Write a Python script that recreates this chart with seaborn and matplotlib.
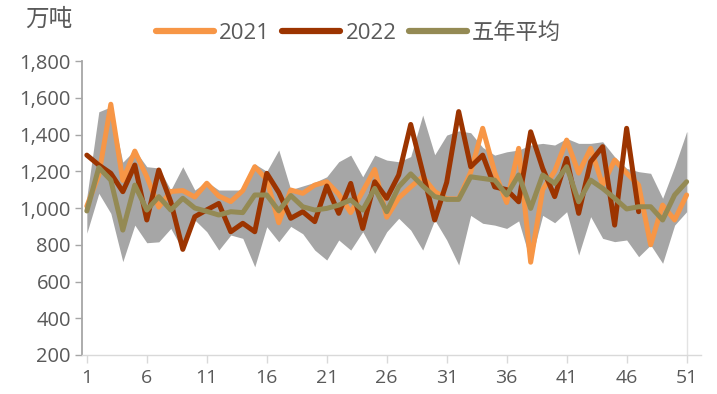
import matplotlib
matplotlib.use("Agg")
import matplotlib.pyplot as plt
from matplotlib.lines import Line2D
import numpy as np
import pandas as pd
import seaborn as sns

# Weekly volume, 10k tonnes
weeks = list(range(1, 52))

y2021 = [1010, 1180, 1565, 1150, 1310, 1170, 1005, 1090, 1095, 1060,
         1135, 1065, 1035, 1095, 1225, 1155, 920, 1098, 1080, 1125,
         1143, 1075, 975, 1090, 1210, 950, 1055, 1115, 1170, 1090,
         1050, 1050, 1195, 1434, 1195, 1030, 1325, 705, 1100, 1200,
         1370, 1190, 1325, 1125, 1261, 1190, 1125, 800, 1016, 935,
         1071]

y2022 = [1288, 1234, 1189, 1089, 1234, 935, 1207, 1034, 775, 953,
         990, 1025, 871, 917, 871, 1189, 1085, 944, 980, 926,
         1120, 971, 1134, 889, 1143, 1053, 1180, 1455, 1195, 935,
         1140, 1525, 1225, 1288, 1115, 1100, 1034, 1415, 1216, 1062,
         1270, 971, 1252, 1334, 907, 1434, 980]

avg5 = [984, 1220, 1152, 880, 1125, 989, 1062, 989, 1053, 1000,
        982, 962, 980, 975, 1071, 1071, 985, 1068, 1007, 989,
        998, 1016, 1044, 989, 1107, 980, 1116, 1186, 1120, 1062,
        1047, 1047, 1170, 1161, 1152, 1071, 1180, 998, 1180, 1134,
        1225, 1034, 1152, 1107, 1053, 995, 1007, 1007, 935, 1071,
        1143]

band_low = [863, 1080, 971, 708, 907, 811, 816, 889, 771, 935,
            871, 771, 853, 835, 680, 898, 816, 900, 860, 771,
            717, 826, 771, 871, 753, 871, 944, 880, 771, 935,
            826, 690, 960, 917, 907, 889, 930, 708, 960, 920,
            980, 744, 953, 835, 817, 826, 735, 799, 699, 907,
            980]

band_high = [1060, 1524, 1551, 1250, 1316, 1225, 1218, 1098, 1225, 1098,
             1143, 1098, 1098, 1098, 1240, 1200, 1316, 1100, 1120, 1140,
             1170, 1252, 1288, 1170, 1288, 1261, 1252, 1280, 1506, 1290,
             1397, 1420, 1410, 1330, 1288, 1306, 1316, 1343, 1352, 1343,
             1379, 1352, 1352, 1361, 1279, 1216, 1198, 1189, 1053, 1225,
             1415]

series_names = ["2021", "2022", "五年平均"]
series_colors = {"2021": "#F79646", "2022": "#9C3400", "五年平均": "#948A54"}

df = pd.concat([
    pd.DataFrame({"week": weeks[:len(y2021)], "value": y2021, "series": "2021"}),
    pd.DataFrame({"week": weeks[:len(y2022)], "value": y2022, "series": "2022"}),
    pd.DataFrame({"week": weeks[:len(avg5)], "value": avg5, "series": "五年平均"}),
], ignore_index=True)

sns.set_theme(style="white")
plt.rcParams["font.family"] = ["Open Sans", "Noto Sans CJK SC", "DejaVu Sans"]

text_color = "#595959"

fig = plt.figure(figsize=(7.17, 3.94), dpi=100)
ax = fig.add_axes([0.1144, 0.099, 0.8633, 0.746])

# five-year min/max range
ax.vlines(weeks[-1], 200, band_high[-1], color="#E3E3E3", lw=1, zorder=0)
ax.fill_between(weeks, band_low, band_high, color="#A6A6A6", linewidth=0, zorder=1)

sns.lineplot(data=df, x="week", y="value", hue="series", hue_order=series_names,
             palette=series_colors, linewidth=3.6, ax=ax, legend=False,
             zorder=3, solid_joinstyle="round", solid_capstyle="round")

ax.set_xlim(0.6, 52.2)
ax.set_ylim(200, 1800)
ax.set_xticks(list(range(1, 52, 5)))
ax.set_yticks(list(range(200, 1801, 200)))
ax.set_yticklabels([f"{v:,}" for v in range(200, 1801, 200)])
ax.set_xlabel("")
ax.set_ylabel("")

for side in ("top", "right"):
    ax.spines[side].set_visible(False)
ax.spines["left"].set_color("#A6A6A6")
ax.spines["left"].set_linewidth(1.3)
ax.spines["bottom"].set_color("#D9D9D9")
ax.spines["bottom"].set_linewidth(1.0)

ax.tick_params(axis="y", direction="out", length=5, width=1, color="#A6A6A6",
               labelsize=14.5, labelcolor=text_color, pad=3, left=True)
ax.tick_params(axis="x", direction="out", length=6, width=1, color="#D9D9D9",
               labelsize=14, labelcolor=text_color, pad=4, bottom=True)

fig.text(25 / 717, 1 - 20 / 394, "万吨", fontsize=17, color=text_color,
         ha="left", va="center")

handles = [Line2D([0], [0], color=series_colors[s], lw=4.5, solid_capstyle="round")
           for s in series_names]
fig.legend(handles, series_names, loc="center", bbox_to_anchor=(0.50, 0.915),
           ncol=3, frameon=False, fontsize=16, labelcolor=text_color,
           handlelength=2.6, handletextpad=0.25, columnspacing=0.55)

fig.savefig("out.png", dpi=100)
